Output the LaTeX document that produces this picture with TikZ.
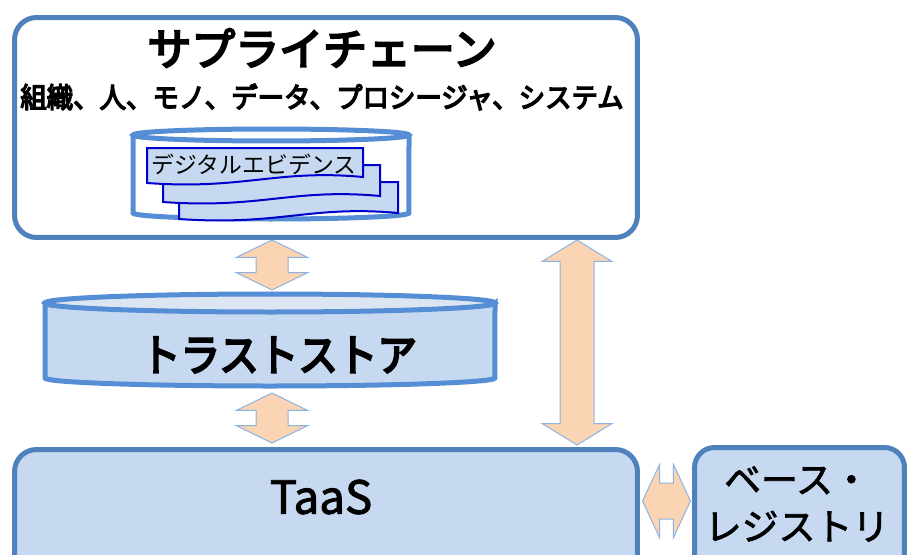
\documentclass[tikz,border=0pt]{standalone}
\usepackage{fontspec}
\newfontfamily\jp{Noto Sans CJK JP}
\newfontfamily\jpbold[FakeBold = 5]{Noto Sans CJK JP}
\newfontfamily\jpmid[FakeBold = 2]{Noto Sans CJK JP}
\usetikzlibrary{shapes.arrows}

\definecolor{boxline}{RGB}{79,129,189}
\definecolor{dbline}{RGB}{85,142,213}
\definecolor{lightfill}{RGB}{198,217,241}
\definecolor{topfill}{RGB}{220,230,242}
\definecolor{peach}{RGB}{251,212,180}
\definecolor{arrowline}{RGB}{141,179,226}
\definecolor{docline}{RGB}{0,0,204}

\tikzset{
  panel/.style = {draw = boxline, line width = 0.1cm, rounded corners = 0.44cm, inner sep = 0},
  dbwall/.style = {draw = dbline, line width = 0.1cm},
  docpage/.style = {draw = docline, line width = 0.04cm, fill = lightfill},
  bothway/.style = {double arrow, draw = arrowline, line width = 0.02cm, fill = peach,
                    inner xsep = 0, inner ysep = 0.31cm,
                    double arrow head extend = 0.39cm, double arrow tip angle = 128}
}

\begin{document}
\begin{tikzpicture}[x = 0.02cm, y = -0.02cm, font = \jp]
            \useasboundingbox (0,0) rectangle (908,554);
            
            % arrows between the blocks
            \node[bothway, rotate = 90, minimum height = 1cm] (upper) at (272,265) {};
            \node[bothway, rotate = 90, minimum height = 1cm] (lower) at (272,418) {};
            \node[bothway, rotate = 90, minimum height = 4.1cm, inner ysep = 0.33cm,
                  double arrow head extend = 0.36cm, double arrow tip angle = 117] (side) at (577,342.5) {};
            \node[bothway, minimum height = 0.96cm, inner ysep = 0.35cm,
                  double arrow head extend = 0.37cm, double arrow tip angle = 130] (link) at (666.5,501) {};
            
            % supply chain
            \node[panel, fill = white, minimum width = 12.46cm, minimum height = 4.4cm] (chain) at (326,127.5) {};
            \node[font = \jpbold\fontsize{25}{30}\selectfont] (title) at (322,48) {サプライチェーン};
            \node[font = \jpbold\fontsize{16}{19}\selectfont] (members) at (322,97)
                {\scalebox{0.94}[1]{組織、人、モノ、データ、プロシージャ、システム}};
            
            \draw [dbwall, fill = white]
            (133,135) -- (133,213) arc[start angle = 180, end angle = 360, x radius = 2.76cm, y radius = 0.12cm]
            -- (409,135);
            \draw [dbwall] (271,135) ellipse[x radius = 2.76cm, y radius = 0.12cm];
            
            \draw [docpage]
            (179,182) -- (398,182) -- (398,213)
            .. controls (310,205) and (280,226) .. (179,219) -- cycle;
            \draw [docpage]
            (163,165) -- (380,165) -- (380,196)
            .. controls (293,188) and (261,209) .. (163,202) -- cycle;
            \draw [docpage]
            (147,148) -- (363,148) -- (363,177)
            .. controls (277,169) and (244,190) .. (147,183) -- cycle;
            \node[font = \jp\fontsize{13}{16}\selectfont] (evidence) at (254,164) {デジタルエビデンス};
            
            % trust store
            \draw [dbwall, fill = lightfill]
            (45,303) -- (45,378) arc[start angle = 180, end angle = 360, x radius = 4.5cm, y radius = 0.16cm]
            -- (495,303) arc[start angle = 0, end angle = -180, x radius = 4.5cm, y radius = 0.16cm] -- cycle;
            \draw [dbwall, fill = topfill] (270,303) ellipse[x radius = 4.5cm, y radius = 0.18cm];
            \node[font = \jpbold\fontsize{25}{30}\selectfont] (store) at (279,355)
                {\scalebox{0.9}[1]{トラストストア}};
            
            % TaaS and base registry
            \node[panel, fill = lightfill, minimum width = 12.46cm, minimum height = 2.81cm] (taas) at (326,519.75) {};
            \node[font = \jpmid\fontsize{26}{31}\selectfont] (taaslabel) at (321,497) {TaaS};
            
            \node[panel, fill = lightfill, rounded corners = 0.4cm, minimum width = 4.2cm, minimum height = 2.85cm] (registry) at (799.5,518.75) {};
            \node[font = \jpmid\fontsize{21}{26.7}\selectfont, align = center] (registrylabel) at (797,504)
                {ベース・\\レジストリ};
        \end{tikzpicture}
\end{document}
